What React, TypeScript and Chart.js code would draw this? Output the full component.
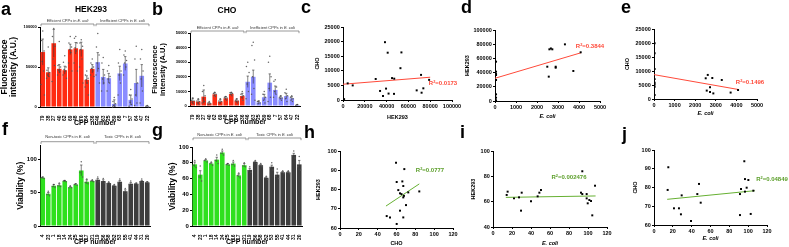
import React, { useEffect, useRef } from 'react';
import { Chart, registerables } from 'chart.js';
Chart.register(...registerables);

const FONT = 'Arial, "Liberation Sans", Helvetica, sans-serif';
const ECOLI = 'E. coli';

// ---------------- DATA ----------------
// Panels a/b: CPP numbers, first 10 efficient in E. coli, next 10 inefficient
const cppLabelsAB = ['79', '38', '27', '40', '62', '69', '48', '70', '34', '36', '46', '63', '25', '59', '68', '7', '57', '64', '47', '22'];
const efficientCount = 10;
const hekFluorMean = [68700, 43400, 79700, 47700, 46000, 72000, 73400, 72000, 34000, 47700, 56000, 37600, 36000, 3800, 42000, 54400, 8900, 30000, 39000, 1000];
const hekFluorSem = [16300, 5600, 17300, 5300, 5000, 6500, 7200, 9000, 5000, 5300, 12000, 9400, 6000, 5200, 9000, 8600, 6100, 17000, 14000, 500];
const hekFluorReps = [
  [95000, 83000, 70000, 57000, 45000, 28000, 15000],
  [75000, 46000, 43000, 40000, 38000, 36000],
  [98000, 88000, 76000, 60000, 52000, 32000],
  [82000, 52000, 50000, 46000, 44000, 40000],
  [64000, 56000, 50000, 47000, 45000, 40000, 36000],
  [88000, 80000, 75000, 72000, 68000, 55000, 45000],
  [88000, 86000, 80000, 74000, 70000, 55000, 45000],
  [84000, 80000, 76000, 72000, 60000, 50000, 30000],
  [45000, 40000, 36000, 34000, 30000, 25000, 15000],
  [60000, 55000, 50000, 48000, 45000, 40000, 38000],
  [92000, 75000, 65000, 55000, 48000, 40000, 30000],
  [62000, 55000, 40000, 35000, 30000, 20000],
  [52000, 45000, 38000, 35000, 30000, 20000],
  [12000, 7000, 4000, 2000, 1000, 0],
  [72000, 55000, 45000, 40000, 30000, 15000],
  [70000, 65000, 58000, 55000, 50000, 40000],
  [22000, 15000, 10000, 6000, 3000, 1000],
  [76000, 60000, 30000, 15000, 5000, 2000],
  [72000, 60000, 45000, 35000, 20000, 5000],
  [2000, 1000, 0],
];
const choFluorMean = [3400, 3000, 6400, 1800, 8000, 3000, 5300, 8200, 3600, 6800, 16600, 20000, 2500, 6000, 16000, 11000, 5700, 6800, 5300, 700];
const choFluorSem = [1900, 1600, 4600, 700, 1100, 1600, 1100, 900, 1200, 1900, 3900, 4600, 900, 2000, 6000, 2700, 1100, 1900, 1100, 300];
const choFluorReps = [
  [5500, 4000, 3500, 2500, 1500],
  [5000, 3500, 3000, 2000, 1000],
  [14000, 10000, 7000, 5000, 3000, 2000],
  [3000, 2000, 1500, 1000],
  [9500, 8500, 8000, 7000, 6500],
  [5000, 3500, 3000, 2000],
  [6500, 6000, 5500, 5000, 4000],
  [9500, 9000, 8500, 8000, 7000],
  [5000, 4000, 3500, 3000, 2000],
  [10000, 8000, 7000, 6000, 4000],
  [30000, 27000, 23000, 15000, 10000, 5000],
  [43600, 41500, 31500, 20000, 12000, 8000, 4000],
  [3500, 3000, 2000, 1500],
  [10000, 8000, 6000, 4000, 2000],
  [34000, 30000, 20000, 12000, 6000, 3000],
  [18000, 17000, 13000, 10000, 8000, 6000],
  [7000, 6000, 5500, 5000, 4000],
  [11400, 9000, 7000, 5000, 3000],
  [7000, 6000, 5000, 4000, 3000],
  [1000, 500],
];

// Panels f/g: first 10 non-toxic in E. coli, next 10 toxic
const cppLabelsFG = ['4', '23', '1', '18', '14', '24', '25', '16', '17', '21', '19', '56', '58', '52', '53', '55', '41', '44', '31', '20'];
const nonToxicCount = 10;
const hekViabMean = [72, 48, 60, 61, 67, 58, 62, 83, 66, 67, 69, 67, 64, 60, 66, 52, 63, 63, 67, 65];
const hekViabSem = [1, 2, 2, 2, 1, 1, 1, 8, 3, 1, 2, 2, 1, 1, 2, 2, 2, 1, 1, 1];
const hekViabReps = [
  [73, 72, 71], [52, 47, 45], [62, 59, 58], [64, 60, 59], [68, 67, 66],
  [60, 57, 57], [63, 62, 61], [96, 80, 73], [70, 65, 63], [69, 67, 66],
  [73, 68, 66], [71, 66, 64], [66, 63, 63], [62, 60, 58], [70, 65, 63],
  [56, 51, 49], [67, 62, 60], [64, 63, 62], [70, 66, 65], [66, 65, 64],
];
const choViabMean = [78, 65, 83, 79, 84, 93, 78, 79, 64, 77, 71, 81, 77, 61, 75, 65, 68, 68, 90, 78];
const choViabSem = [3, 5, 1, 1, 3, 2, 1, 2, 2, 2, 2, 1, 1, 1, 2, 3, 1, 1, 2, 5];
const choViabReps = [
  [83, 77, 74], [76, 62, 57], [85, 83, 81], [81, 79, 77], [90, 83, 79],
  [97, 92, 90], [79, 78, 77], [83, 78, 76], [67, 64, 61], [80, 76, 75],
  [75, 70, 68], [83, 81, 79], [79, 77, 75], [63, 61, 59], [80, 74, 71],
  [72, 63, 60], [70, 68, 66], [70, 68, 66], [95, 89, 86], [88, 75, 71],
];

// Scatter panels
const cHekVsCho = [
  { x: 4300, y: 5700 }, { x: 8900, y: 5000 }, { x: 30000, y: 7200 }, { x: 38500, y: 19800 }, { x: 41000, y: 16200 },
  { x: 34000, y: 3100 }, { x: 36700, y: 1400 }, { x: 39500, y: 3900 }, { x: 41800, y: 2200 }, { x: 45000, y: 7500 },
  { x: 47000, y: 7300 }, { x: 46800, y: 2100 }, { x: 52700, y: 10900 }, { x: 53600, y: 16300 }, { x: 67600, y: 3300 },
  { x: 71600, y: 8600 }, { x: 72100, y: 2500 }, { x: 73700, y: 4000 }, { x: 79000, y: 6900 }, { x: 1000, y: 300 },
];
const cFit = [{ x: 0, y: 5400 }, { x: 80000, y: 7800 }];
const cR2 = '0.0173';

const dEcoliVsHek = [
  { x: 50, y: 55400 }, { x: 50, y: 41300 }, { x: 50, y: 38000 }, { x: 50, y: 36600 }, { x: 50, y: 29600 },
  { x: 50, y: 9400 }, { x: 50, y: 4700 }, { x: 50, y: 1000 }, { x: 2590, y: 72800 }, { x: 2730, y: 72800 },
  { x: 2660, y: 74000 }, { x: 2490, y: 48300 }, { x: 2560, y: 34300 }, { x: 2890, y: 46900 }, { x: 2890, y: 48300 },
  { x: 3330, y: 79800 }, { x: 3730, y: 42300 }, { x: 4080, y: 68600 },
];
const dFit = [{ x: 0, y: 32000 }, { x: 4100, y: 68000 }];
const dR2 = '0.3844';

const eEcoliVsCho = [
  { x: 30, y: 19900 }, { x: 30, y: 16300 }, { x: 30, y: 10700 }, { x: 30, y: 7100 }, { x: 30, y: 5800 },
  { x: 30, y: 5200 }, { x: 30, y: 4400 }, { x: 30, y: 1400 }, { x: 2510, y: 7400 }, { x: 2610, y: 8600 },
  { x: 2560, y: 3000 }, { x: 2720, y: 4200 }, { x: 2720, y: 2500 }, { x: 2880, y: 2000 }, { x: 2830, y: 7500 },
  { x: 3290, y: 6800 }, { x: 3720, y: 2300 }, { x: 4080, y: 3200 },
];
const eFit = [{ x: 0, y: 8700 }, { x: 4090, y: 3400 }];
const eR2 = '0.1496';

const hChoVsHekViab = [
  { x: 59.5, y: 93.9 }, { x: 68.3, y: 90.6 }, { x: 60.2, y: 83.9 }, { x: 66.2, y: 84.2 }, { x: 61.9, y: 79.7 },
  { x: 67.2, y: 81.8 }, { x: 63.7, y: 78.0 }, { x: 65.3, y: 77.6 }, { x: 67.2, y: 75.9 }, { x: 67.9, y: 76.7 },
  { x: 72.5, y: 78.5 }, { x: 63.7, y: 69.0 }, { x: 70.1, y: 71.9 }, { x: 49.6, y: 66.2 }, { x: 53.1, y: 65.5 },
  { x: 67.2, y: 65.5 }, { x: 60.2, y: 62.1 }, { x: 84.2, y: 79.0 },
];
const hFit = [{ x: 48.8, y: 71.4 }, { x: 84.2, y: 82.9 }];
const hR2 = '0.0777';

const iEcoliVsHekViab = [
  { x: 14.4, y: 65.3 }, { x: 15.4, y: 67.9 }, { x: 22.1, y: 62.6 }, { x: 27.4, y: 63.4 }, { x: 30.2, y: 67.1 },
  { x: 29.5, y: 52.9 }, { x: 40, y: 60.3 }, { x: 47, y: 64.2 }, { x: 48.8, y: 67.1 }, { x: 50.5, y: 69.2 },
  { x: 92.6, y: 67.1 }, { x: 94, y: 66 }, { x: 94, y: 84 }, { x: 98.6, y: 66 }, { x: 98.6, y: 62.6 },
  { x: 99.7, y: 58.7 }, { x: 101.4, y: 61.3 }, { x: 103.2, y: 60.5 }, { x: 104.5, y: 49.2 }, { x: 107.4, y: 72.6 },
];
const iFit = [{ x: 13.5, y: 63.4 }, { x: 108, y: 64.5 }];
const iR2 = '0.002476';

const jEcoliVsChoViab = [
  { x: 14.5, y: 78.7 }, { x: 15.2, y: 90.8 }, { x: 21.2, y: 68.9 }, { x: 26.5, y: 68.9 }, { x: 29.4, y: 75.8 },
  { x: 28.6, y: 65.7 }, { x: 39.3, y: 62.1 }, { x: 46, y: 76.5 }, { x: 47.8, y: 81.9 }, { x: 49.6, y: 71.9 },
  { x: 91.3, y: 76.5 }, { x: 92.4, y: 79.2 }, { x: 91.3, y: 65.3 }, { x: 95.9, y: 94 }, { x: 96.6, y: 84.5 },
  { x: 96.6, y: 77.8 }, { x: 98.4, y: 79.9 }, { x: 100.2, y: 84 }, { x: 102.7, y: 65.9 }, { x: 105.5, y: 78.3 },
];
const jFit = [{ x: 14, y: 73.7 }, { x: 107, y: 78.3 }];
const jR2 = '0.04849';

// ---------------- STYLE ----------------
const RED = '#ff2a12';
const BLUE = '#8a8cff';
const GREEN = '#2ee01e';
const DARK = '#3d3d3d';
const FIT_RED = '#ff4a3a';
const FIT_GREEN = '#66b032';
const TXT_GREEN = '#5a9e28';
const JITTER = [0, -1.3, 1.3, -0.7, 0.7, -1.7, 1.7];

type Box = { left: number; top: number; width: number; height: number };

const makeBracketPlugin = (groups: { from: number; to: number; text: string }[], lineY: number, textY: number, drop: number, fontSize: number) => ({
  id: 'cppBrackets',
  afterDraw(chart: any) {
    const ctx = chart.ctx;
    const xs = chart.scales.x;
    const half = (xs.getPixelForValue(1) - xs.getPixelForValue(0)) / 2;
    ctx.save();
    ctx.strokeStyle = '#555';
    ctx.lineWidth = 0.6;
    ctx.fillStyle = '#333';
    ctx.textBaseline = 'middle';
    ctx.textAlign = 'left';
    for (const g of groups) {
      const x0 = xs.getPixelForValue(g.from) - half + 1;
      const x1 = xs.getPixelForValue(g.to) + half - 1;
      ctx.beginPath();
      ctx.moveTo(x0, lineY + drop);
      ctx.lineTo(x0, lineY);
      ctx.lineTo(x1, lineY);
      ctx.lineTo(x1, lineY + drop);
      ctx.stroke();
      const fN = `${fontSize}px ${FONT}`;
      const fI = `italic ${fontSize}px ${FONT}`;
      ctx.font = fN;
      const w1 = ctx.measureText(g.text).width;
      ctx.font = fI;
      const w2 = ctx.measureText(ECOLI).width;
      const x = (x0 + x1) / 2 - (w1 + w2) / 2;
      ctx.font = fN;
      ctx.fillText(g.text, x, textY);
      ctx.font = fI;
      ctx.fillText(ECOLI, x + w1, textY);
    }
    ctx.restore();
  },
});

const makeBarExtrasPlugin = (means: number[], sems: number[], reps: number[][]) => ({
  id: 'barExtras',
  afterDatasetsDraw(chart: any) {
    const ctx = chart.ctx;
    const xs = chart.scales.x;
    const ys = chart.scales.y;
    ctx.save();
    means.forEach((m, i) => {
      const cx = xs.getPixelForValue(i);
      ctx.fillStyle = 'rgba(85,85,85,0.9)';
      reps[i].forEach((v, k) => {
        ctx.beginPath();
        ctx.arc(cx + JITTER[k % JITTER.length], ys.getPixelForValue(v), 0.75, 0, Math.PI * 2);
        ctx.fill();
      });
      const yT = ys.getPixelForValue(m + sems[i]);
      const yB = ys.getPixelForValue(Math.max(m - sems[i], 0));
      ctx.strokeStyle = '#333';
      ctx.lineWidth = 0.6;
      ctx.beginPath();
      ctx.moveTo(cx, yT); ctx.lineTo(cx, yB);
      ctx.moveTo(cx - 1.2, yT); ctx.lineTo(cx + 1.2, yT);
      ctx.stroke();
    });
    ctx.restore();
  },
});

function yAxis(o: { min: number; max: number; step: number; width: number; font: number; title: string | string[]; titleSize: number; titleLH?: number; titlePad: number }) {
  return {
    type: 'linear',
    position: 'left',
    min: o.min,
    max: o.max,
    afterFit: (s: any) => { s.width = o.width; },
    border: { display: true, color: '#000', width: 1 },
    grid: { display: true, drawOnChartArea: false, drawTicks: true, tickLength: 2, color: '#000', lineWidth: 1 },
    ticks: { stepSize: o.step, autoSkip: false, includeBounds: false, padding: 1.2, color: '#000', font: { family: FONT, size: o.font, weight: 'bold' }, callback: (v: any) => String(v) },
    title: { display: true, text: o.title, color: '#000', font: { family: FONT, size: o.titleSize, weight: 'bold', lineHeight: o.titleLH ?? 1.2 }, padding: { top: o.titlePad, bottom: 0 } },
  };
}

function xAxisLinear(o: { min: number; max: number; step: number; height: number; title: string; italic?: boolean; padBottom: number }) {
  return {
    type: 'linear',
    position: 'bottom',
    min: o.min,
    max: o.max,
    afterFit: (s: any) => { s.height = o.height; },
    border: { display: true, color: '#000', width: 1 },
    grid: { display: true, drawOnChartArea: false, drawTicks: true, tickLength: 2, color: '#000', lineWidth: 1 },
    ticks: { stepSize: o.step, autoSkip: false, maxRotation: 0, padding: 1.5, color: '#000', font: { family: FONT, size: 5.5, weight: 'bold' }, callback: (v: any) => String(v) },
    title: { display: true, text: o.title, color: '#000', font: { family: FONT, size: 5.5, weight: 'bold', style: o.italic ? 'italic' : 'normal' }, padding: { top: 0, bottom: o.padBottom } },
  };
}

function xAxisCategory(height: number, padBottom: number) {
  return {
    type: 'category',
    position: 'bottom',
    offset: true,
    afterFit: (s: any) => { s.height = height; },
    border: { display: true, color: '#000', width: 1 },
    grid: { display: false },
    ticks: { autoSkip: false, minRotation: 90, maxRotation: 90, padding: 0.5, color: '#000', font: { family: FONT, size: 5, weight: 'bold' } },
    title: { display: true, text: 'CPP number', color: '#000', font: { family: FONT, size: 7, weight: 'bold' }, padding: { top: 0, bottom: padBottom } },
  };
}

type BarSpec = {
  box: Box; labels: string[]; means: number[]; sems: number[]; reps: number[][]; colors: string[];
  padTop: number; padRight: number; y: any; xH: number; xPadBottom: number;
  groups: { from: number; to: number; text: string }[]; lineY: number; textY: number;
};

function barConfig(p: BarSpec) {
  return {
    type: 'bar',
    data: { labels: p.labels, datasets: [{ data: p.means, backgroundColor: p.colors, borderWidth: 0, barPercentage: 0.84, categoryPercentage: 1 }] },
    options: {
      responsive: false, animation: false, devicePixelRatio: 1,
      layout: { padding: { top: p.padTop, right: p.padRight, left: 0, bottom: 0 } },
      plugins: { legend: { display: false }, tooltip: { enabled: false } },
      scales: { x: xAxisCategory(p.xH, p.xPadBottom), y: p.y },
    },
    plugins: [makeBarExtrasPlugin(p.means, p.sems, p.reps), makeBracketPlugin(p.groups, p.lineY, p.textY, 2.2, 4)],
  };
}

type ScatterSpec = { box: Box; points: { x: number; y: number }[]; fit: { x: number; y: number }[]; fitColor: string; padTop: number; padRight: number; x: any; y: any };

function scatterConfig(p: ScatterSpec) {
  return {
    type: 'scatter',
    data: {
      datasets: [
        { type: 'scatter', data: p.points, backgroundColor: '#000', borderWidth: 0, pointRadius: 1.4, pointStyle: 'rect' },
        { type: 'line', data: p.fit, borderColor: p.fitColor, borderWidth: 1, pointRadius: 0, showLine: true, fill: false },
      ],
    },
    options: {
      responsive: false, animation: false, devicePixelRatio: 1,
      layout: { padding: { top: p.padTop, right: p.padRight, left: 0, bottom: 0 } },
      plugins: { legend: { display: false }, tooltip: { enabled: false } },
      scales: { x: p.x, y: p.y },
    },
  };
}

function colorsFor(count: number, firstN: number, c1: string, c2: string) {
  return Array.from({ length: count }, (_, i) => (i < firstN ? c1 : c2));
}

function ChartCanvas({ box, build }: { box: Box; build: () => any }) {
  const ref = useRef<HTMLCanvasElement>(null);
  useEffect(() => {
    const chart = new Chart(ref.current as HTMLCanvasElement, build());
    return () => chart.destroy();
  }, []);
  return <canvas ref={ref} width={box.width} height={box.height} style={{ position: 'absolute', left: box.left, top: box.top, width: box.width, height: box.height }} />;
}

function Letter({ x, baseline, ch }: { x: number; baseline: number; ch: string }) {
  return <div style={{ position: 'absolute', left: x, top: baseline - 15.2, fontSize: 18, lineHeight: '18px', fontWeight: 'bold', fontFamily: FONT, color: '#000' }}>{ch}</div>;
}

function CText({ x, y, size, color = '#000', children }: { x: number; y: number; size: number; color?: string; children: any }) {
  return <div style={{ position: 'absolute', left: x, top: y, transform: 'translate(-50%,-50%)', fontSize: size, lineHeight: 1, fontWeight: 'bold', fontFamily: FONT, color, whiteSpace: 'nowrap' }}>{children}</div>;
}

function R2({ x, y, color, value }: { x: number; y: number; color: string; value: string }) {
  return (
    <CText x={x} y={y} size={6} color={color}>
      R<sup style={{ fontSize: '0.65em', verticalAlign: '0.5em', lineHeight: 0 }}>2</sup>={value}
    </CText>
  );
}

const groupsAB = [
  { from: 0, to: efficientCount - 1, text: 'Efficient CPPs in ' },
  { from: efficientCount, to: cppLabelsAB.length - 1, text: 'Inefficient CPPs in ' },
];
const groupsFG = [
  { from: 0, to: nonToxicCount - 1, text: 'Non-toxic CPPs in ' },
  { from: nonToxicCount, to: cppLabelsFG.length - 1, text: 'Toxic CPPs in ' },
];

const panelA: BarSpec = {
  box: { left: 0, top: 0, width: 154, height: 128 },
  labels: cppLabelsAB, means: hekFluorMean, sems: hekFluorSem, reps: hekFluorReps,
  colors: colorsFor(cppLabelsAB.length, efficientCount, RED, BLUE),
  padTop: 27, padRight: 4, xH: 21, xPadBottom: 0.8,
  y: yAxis({ min: 0, max: 100000, step: 50000, width: 40, font: 4, title: ['Fluorescence', 'intensity (A.U.)'], titleSize: 8.5, titleLH: 1, titlePad: 0.8 }),
  groups: groupsAB, lineY: 24, textY: 21,
};
const panelB: BarSpec = {
  box: { left: 150, top: 0, width: 154, height: 126 },
  labels: cppLabelsAB, means: choFluorMean, sems: choFluorSem, reps: choFluorReps,
  colors: colorsFor(cppLabelsAB.length, efficientCount, RED, BLUE),
  padTop: 33, padRight: 4, xH: 20, xPadBottom: 0,
  y: yAxis({ min: 0, max: 50000, step: 10000, width: 40, font: 4, title: ['Fluorescence', 'intensity (A.U.)'], titleSize: 7.5, titleLH: 1.07, titlePad: 1 }),
  groups: groupsAB, lineY: 31, textY: 28,
};
const panelF: BarSpec = {
  box: { left: 0, top: 124, width: 154, height: 123 },
  labels: cppLabelsFG, means: hekViabMean, sems: hekViabSem, reps: hekViabReps,
  colors: colorsFor(cppLabelsFG.length, nonToxicCount, GREEN, DARK),
  padTop: 21.6, padRight: 4, xH: 21, xPadBottom: 0.5,
  y: yAxis({ min: 0, max: 120, step: 50, width: 40, font: 6, title: 'Viability (%)', titleSize: 8.5, titleLH: 1, titlePad: 16.7 }),
  groups: groupsFG, lineY: 17.7, textY: 13,
};
const panelG: BarSpec = {
  box: { left: 150, top: 124, width: 156, height: 123 },
  labels: cppLabelsFG, means: choViabMean, sems: choViabSem, reps: choViabReps,
  colors: colorsFor(cppLabelsFG.length, nonToxicCount, GREEN, DARK),
  padTop: 23, padRight: 4, xH: 21, xPadBottom: 0.5,
  y: yAxis({ min: 0, max: 100, step: 20, width: 42, font: 6, title: 'Viability (%)', titleSize: 8.5, titleLH: 1, titlePad: 18 }),
  groups: groupsFG, lineY: 14, textY: 11,
};

const panelC: ScatterSpec = {
  box: { left: 300, top: 0, width: 165, height: 124 }, points: cHekVsCho, fit: cFit, fitColor: FIT_RED, padTop: 27, padRight: 13,
  x: xAxisLinear({ min: 0, max: 100000, step: 20000, height: 24, title: 'HEK293', padBottom: 3.7 }),
  y: yAxis({ min: 0, max: 25000, step: 5000, width: 43, font: 5.5, title: 'CHO', titleSize: 5.5, titlePad: 13.7 }),
};
const panelD: ScatterSpec = {
  box: { left: 460, top: 0, width: 165, height: 124 }, points: dEcoliVsHek, fit: dFit, fitColor: FIT_RED, padTop: 30, padRight: 25,
  x: xAxisLinear({ min: 0, max: 5000, step: 1000, height: 23, title: ECOLI, italic: true, padBottom: 4.7 }),
  y: yAxis({ min: 0, max: 100000, step: 20000, width: 35, font: 5.5, title: 'HEK293', titleSize: 5.5, titlePad: 3.7 }),
};
const panelE: ScatterSpec = {
  box: { left: 620, top: 0, width: 169, height: 124 }, points: eEcoliVsCho, fit: eFit, fitColor: FIT_RED, padTop: 29, padRight: 32,
  x: xAxisLinear({ min: 0, max: 5000, step: 1000, height: 25, title: ECOLI, italic: true, padBottom: 7.7 }),
  y: yAxis({ min: 0, max: 25000, step: 5000, width: 34, font: 5.5, title: 'CHO', titleSize: 5.5, titlePad: 3.7 }),
};
const panelH: ScatterSpec = {
  box: { left: 300, top: 124, width: 165, height: 123 }, points: hChoVsHekViab, fit: hFit, fitColor: FIT_GREEN, padTop: 27, padRight: 12,
  x: xAxisLinear({ min: 0, max: 120, step: 20, height: 19, title: 'CHO', padBottom: 0.7 }),
  y: yAxis({ min: 60, max: 100, step: 10, width: 40, font: 5.5, title: 'HEK293', titleSize: 5.5, titlePad: 14.7 }),
};
const panelI: ScatterSpec = {
  box: { left: 460, top: 124, width: 165, height: 123 }, points: iEcoliVsHekViab, fit: iFit, fitColor: FIT_GREEN, padTop: 27, padRight: 18,
  x: xAxisLinear({ min: 0, max: 120, step: 20, height: 20, title: ECOLI, italic: true, padBottom: 0.7 }),
  y: yAxis({ min: 40, max: 100, step: 20, width: 33, font: 5.5, title: 'HEK293', titleSize: 5.5, titlePad: 9.7 }),
};
const panelJ: ScatterSpec = {
  box: { left: 620, top: 124, width: 169, height: 123 }, points: jEcoliVsChoViab, fit: jFit, fitColor: FIT_GREEN, padTop: 26, padRight: 22,
  x: xAxisLinear({ min: 0, max: 120, step: 20, height: 22, title: ECOLI, italic: true, padBottom: 5.7 }),
  y: yAxis({ min: 60, max: 100, step: 10, width: 34, font: 5.5, title: 'CHO', titleSize: 5.5, titlePad: 11.7 }),
};

const barPanels = [panelA, panelB, panelF, panelG];
const scatterPanels = [panelC, panelD, panelE, panelH, panelI, panelJ];

export default function App() {
  return (
    <div style={{ position: 'fixed', left: 0, top: 0, width: 789, height: 247, background: '#fff', overflow: 'hidden' }}>
      {barPanels.map((p, i) => <ChartCanvas key={'b' + i} box={p.box} build={() => barConfig(p)} />)}
      {scatterPanels.map((p, i) => <ChartCanvas key={'s' + i} box={p.box} build={() => scatterConfig(p)} />)}

      <Letter x={1} baseline={15} ch="a" />
      <Letter x={152} baseline={15} ch="b" />
      <Letter x={301} baseline={13.5} ch="c" />
      <Letter x={461} baseline={13.5} ch="d" />
      <Letter x={621} baseline={13.5} ch="e" />
      <Letter x={2} baseline={135} ch="f" />
      <Letter x={152} baseline={136} ch="g" />
      <Letter x={304} baseline={138} ch="h" />
      <Letter x={460} baseline={138} ch="i" />
      <Letter x={622} baseline={140} ch="j" />

      <CText x={91} y={8.5} size={8.5}>HEK293</CText>
      <CText x={227} y={10} size={8.5}>CHO</CText>

      <R2 x={443} y={83} color={FIT_RED} value={cR2} />
      <R2 x={590} y={45.5} color={FIT_RED} value={dR2} />
      <R2 x={750} y={82} color={FIT_RED} value={eR2} />
      <R2 x={430} y={170} color={TXT_GREEN} value={hR2} />
      <R2 x={569} y={177} color={TXT_GREEN} value={iR2} />
      <R2 x={772} y={179} color={TXT_GREEN} value={jR2} />
    </div>
  );
}
